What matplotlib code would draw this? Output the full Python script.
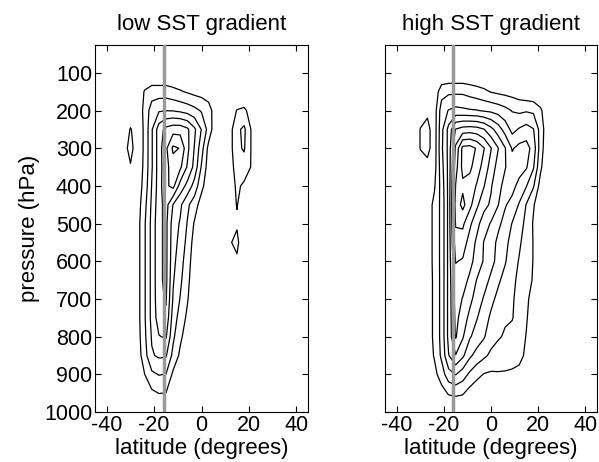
import numpy as np
import matplotlib
matplotlib.use('Agg')
import matplotlib.pyplot as plt

plt.rcParams['font.family'] = ['Liberation Sans', 'DejaVu Sans']
plt.rcParams['axes.unicode_minus'] = False

lat = [-36, -33, -30, -27, -24, -21, -18, -15, -12, -9, -6, -3, 0, 3, 6, 9, 12, 15, 18, 21, 24, 27]
pres = [100, 150, 200, 250, 300, 350, 400, 450, 500, 550, 600, 650, 700, 750, 800, 850, 900, 950, 1000]

# low SST gradient, one row per pressure level
psi_low = [
    [0, 0, 0, 0, 0, 0, 0, 0, 0, 0, 0, 0, 0, 0, 0, 0, 0, 0, 0, 0, 0, 0],
    [0, 0, 0, 0.2, 1.1, 1.5, 1.5, 1.5, 1.3, 1.1, 0.9, 0.7, 0.6, 0.5, 0.2, 0, 0, 0, 0, 0, 0, 0],
    [0, 0, 0, 0.3, 1.3, 2.5, 2.9, 2.98, 2.95, 2.8, 2.6, 2.3, 1.9, 1.4, 0.5, 0, 0.4, 1.05, 1.2, 0.6, 0, 0],
    [0, 0, 1.1, 0.3, 1.2, 2.9, 4.5, 5.3, 5.6, 5.6, 5.2, 4.2, 2.95, 1.6, 0.3, 0.2, 0.6, 1.8, 2.2, 0.95, 0, 0],
    [0, 0.5, 1.4, 0.3, 1.2, 2.9, 4.5, 5.8, 7.2, 6.95, 5.3, 3.95, 2.4, 0.7, 0.2, 0.1, 0.6, 1.8, 2.1, 0.95, 0, 0],
    [0, 0, 0.9, 0.35, 1.25, 2.9, 4.5, 5.7, 6.5, 6.2, 4.9, 3.7, 1.9, 0.5, 0.1, 0.1, 0.5, 1.5, 1.6, 0.95, 0, 0],
    [0, 0, 0, 0.4, 1.4, 3.05, 4.5, 5.8, 6.3, 4.6, 3.7, 2.6, 1.3, 0.3, 0, 0, 0.4, 1.2, 0.8, 0.5, 0, 0],
    [0, 0, 0, 0.5, 1.7, 3.2, 4.6, 5.4, 3.95, 3.2, 2.2, 1.5, 0.5, 0.1, 0, 0.1, 0.5, 1.05, 0.4, 0.2, 0, 0],
    [0, 0, 0, 0.6, 1.9, 3.3, 4.75, 5.25, 3.5, 2.9, 1.95, 0.9, 0.1, 0, 0, 0, 0.5, 0.85, 0.2, 0, 0, 0],
    [0, 0, 0, 0.6, 1.9, 3.3, 4.75, 5.25, 3.4, 2.7, 1.7, 0.6, 0, 0, 0, 0, 0.9, 1.3, 0, 0, 0, 0],
    [0, 0, 0, 0.6, 1.9, 3.3, 4.75, 5.25, 3.3, 2.4, 1.5, 0.4, 0, 0, 0, 0, 0.5, 0.8, 0, 0, 0, 0],
    [0, 0, 0, 0.6, 1.9, 3.3, 4.75, 5.25, 3.1, 2.2, 1.3, 0.3, 0, 0, 0, 0, 0.2, 0.3, 0, 0, 0, 0],
    [0, 0, 0, 0.6, 1.9, 3.3, 4.7, 5.1, 2.9, 1.95, 1.1, 0.2, 0, 0, 0, 0, 0, 0, 0, 0, 0, 0],
    [0, 0, 0, 0.6, 1.9, 3.3, 4.5, 4.8, 2.5, 1.6, 0.8, 0.1, 0, 0, 0, 0, 0, 0, 0, 0, 0, 0],
    [0, 0, 0, 0.55, 1.8, 3.1, 3.95, 4.1, 2.2, 1.2, 0.5, 0, 0, 0, 0, 0, 0, 0, 0, 0, 0, 0],
    [0, 0, 0, 0.45, 1.6, 2.9, 3.15, 3.1, 1.7, 0.8, 0.2, 0, 0, 0, 0, 0, 0, 0, 0, 0, 0, 0],
    [0, 0, 0, 0.2, 1.0, 1.8, 2.05, 1.98, 0.8, 0.3, 0, 0, 0, 0, 0, 0, 0, 0, 0, 0, 0, 0],
    [0, 0, 0, 0, 0.3, 0.8, 1.02, 0.98, 0.4, 0.1, 0, 0, 0, 0, 0, 0, 0, 0, 0, 0, 0, 0],
    [0, 0, 0, 0, 0, 0, 0, 0, 0, 0, 0, 0, 0, 0, 0, 0, 0, 0, 0, 0, 0, 0],
]

# high SST gradient
psi_high = [
    [0, 0, 0, 0, 0, 0, 0, 0, 0, 0, 0, 0, 0, 0, 0, 0, 0, 0, 0, 0, 0, 0],
    [0, 0, 0, 0, 0.3, 1.6, 1.8, 1.8, 1.8, 1.6, 1.4, 1.2, 0.95, 0.8, 0.7, 0.6, 0.4, 0.2, 0.1, 0, 0, 0],
    [0, 0, 0.3, 0.8, 0.5, 2.5, 3.05, 3.3, 3.2, 3.1, 3.05, 2.9, 2.8, 2.6, 2.3, 1.95, 1.8, 1.9, 1.8, 1.2, 0.2, 0],
    [0, 0, 1.05, 1.3, 0.5, 2.7, 4.3, 6.05, 6.4, 6.5, 6.4, 6.05, 5.3, 4.5, 3.6, 2.7, 3.1, 3.4, 3.05, 1.6, 0.3, 0],
    [0, 0, 1.05, 1.3, 0.5, 2.8, 4.3, 7.2, 9.3, 9.4, 8.9, 8.05, 7.05, 6.05, 5.05, 3.9, 4.3, 4.4, 3.6, 1.5, 0.2, 0],
    [0, 0, 0.4, 0.7, 0.6, 2.6, 4.3, 7.6, 9.3, 9.2, 8.5, 7.6, 6.6, 5.6, 5.05, 4.5, 4.4, 4.1, 3.1, 1.2, 0.1, 0],
    [0, 0, 0, 0.4, 0.9, 2.4, 4.3, 8.05, 8.8, 8.6, 7.9, 7.05, 6.1, 5.3, 4.7, 4.3, 3.7, 3.05, 2.1, 0.6, 0, 0],
    [0, 0, 0, 0.5, 1.25, 2.3, 4.3, 8.4, 9.3, 8.3, 7.2, 6.3, 5.85, 5.05, 4.08, 3.7, 2.9, 1.95, 1.1, 0.3, 0, 0],
    [0, 0, 0, 0.5, 1.25, 2.3, 4.3, 8.1, 8.2, 7.2, 6.3, 5.5, 4.9, 4.2, 3.7, 2.95, 2.3, 1.8, 0.9, 0.2, 0, 0],
    [0, 0, 0, 0.5, 1.25, 2.3, 4.3, 7.6, 7.5, 6.6, 5.8, 4.95, 4.4, 3.8, 3.3, 2.6, 2.1, 1.7, 0.95, 0.1, 0, 0],
    [0, 0, 0, 0.5, 1.25, 2.3, 4.3, 7.05, 6.9, 6.3, 5.6, 4.9, 4.3, 3.7, 3.1, 2.3, 1.95, 1.6, 0.95, 0.1, 0, 0],
    [0, 0, 0, 0.5, 1.2, 2.3, 4.3, 6.6, 6.4, 5.8, 4.95, 4.4, 3.8, 3.2, 2.6, 2.2, 1.8, 1.4, 0.9, 0, 0, 0],
    [0, 0, 0, 0.5, 1.2, 2.3, 4.3, 6.4, 5.95, 5.3, 4.5, 3.9, 3.3, 2.7, 2.3, 2.1, 1.7, 1.2, 0.6, 0, 0, 0],
    [0, 0, 0, 0.5, 1.2, 2.3, 4.3, 6.25, 5.6, 4.7, 4.05, 3.5, 2.8, 2.4, 2.1, 2.05, 1.6, 1.1, 0.4, 0, 0, 0],
    [0, 0, 0, 0.5, 1.2, 2.3, 4.3, 6.1, 5.1, 4.1, 3.6, 3.1, 2.4, 2.1, 1.9, 1.7, 1.5, 0.95, 0.2, 0, 0, 0],
    [0, 0, 0, 0.4, 1.1, 2.2, 3.95, 4.95, 4.2, 3.2, 2.6, 2.2, 1.8, 1.6, 1.45, 1.5, 1.3, 0.8, 0, 0, 0, 0],
    [0, 0, 0, 0.2, 0.7, 1.5, 2.6, 3.05, 2.5, 1.8, 1.3, 0.95, 0.85, 0.9, 0.9, 0.8, 0.7, 0.3, 0, 0, 0, 0],
    [0, 0, 0, 0, 0.2, 0.6, 1.1, 1.2, 1.1, 0.6, 0.3, 0.1, 0, 0, 0, 0, 0, 0, 0, 0, 0, 0],
    [0, 0, 0, 0, 0, 0, 0, 0, 0, 0, 0, 0, 0, 0, 0, 0, 0, 0, 0, 0, 0, 0],
]

levels_low = [1, 2, 3, 4, 5, 6, 7]
levels_high = [1, 2, 3, 4, 5, 6, 7, 8, 9]
titles = ['low SST gradient', 'high SST gradient']
lat_line = -16
xticks = [-40, -20, 0, 20, 40]
yticks = [100, 200, 300, 400, 500, 600, 700, 800, 900, 1000]

fig = plt.figure(figsize=(5.99, 4.62), dpi=100)
ax1 = fig.add_axes([95 / 599, 50 / 462, 213 / 599, 367 / 462])
ax2 = fig.add_axes([385 / 599, 50 / 462, 212 / 599, 367 / 462])

for ax, psi, lev, title in zip([ax1, ax2], [psi_low, psi_high], [levels_low, levels_high], titles):
    ax.contour(lat, pres, np.array(psi), levels=lev, colors='k', linewidths=0.9)
    ax.axvline(lat_line, color='0.6', lw=2.5, zorder=5)
    ax.set_xlim(-45, 45)
    ax.set_ylim(1000, 26)
    ax.set_xticks(xticks)
    ax.set_yticks(yticks)
    ax.tick_params(direction='in', top=True, right=True, length=4, width=0.8, labelsize=15.5, pad=2)
    ax.tick_params(axis='x', pad=2)
    for s in ax.spines.values():
        s.set_linewidth(0.8)
    ax.set_title(title, fontsize=16, pad=11)
    ax.set_xlabel('latitude (degrees)', fontsize=16, labelpad=1.5)

ax1.set_ylabel('pressure (hPa)', fontsize=16, labelpad=3)
ax2.set_yticklabels([])

fig.savefig('out.png', dpi=100)
